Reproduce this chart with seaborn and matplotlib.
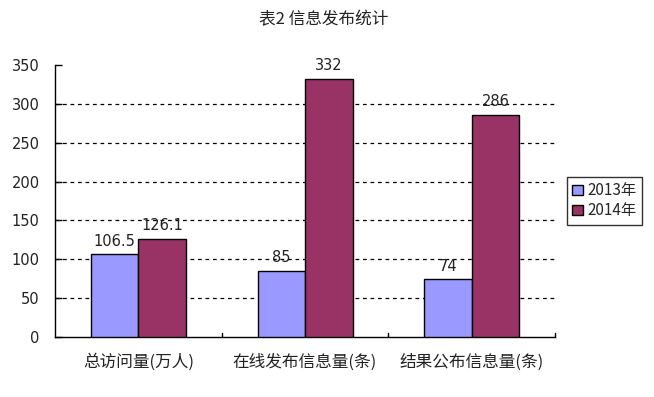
import matplotlib
matplotlib.use("Agg")
import matplotlib.pyplot as plt
import seaborn as sns
import pandas as pd
from matplotlib.patches import Patch

title = "表2 信息发布统计"
categories = ["总访问量(万人)", "在线发布信息量(条)", "结果公布信息量(条)"]
series_names = ["2013年", "2014年"]
values_2013 = [106.5, 85, 74]
values_2014 = [126.1, 332, 286]
label_2013 = ["106.5", "85", "74"]
label_2014 = ["126.1", "332", "286"]
yticks = [0, 50, 100, 150, 200, 250, 300, 350]
colors = ["#9999FF", "#993366"]

df = pd.DataFrame({
    "cat": categories * 2,
    "year": [series_names[0]] * 3 + [series_names[1]] * 3,
    "val": values_2013 + values_2014,
})

sns.set_theme(style="white")
plt.rcParams["font.family"] = ["Noto Sans CJK SC", "DejaVu Sans"]

fig = plt.figure(figsize=(6.54, 3.97), dpi=100)
ax = fig.add_axes([55 / 654, 1 - 337 / 397, 500 / 654, 272 / 397])

sns.barplot(data=df, x="cat", y="val", hue="year", palette=colors,
            width=0.57, edgecolor="black", linewidth=1, ax=ax, legend=False,
            saturation=1, zorder=3)

ax.set_ylim(0, 350)
ax.set_xlim(-0.5, 2.5)
ax.set_yticks(yticks)
ax.set_yticklabels([str(v) for v in yticks], fontsize=10.5, family=["DejaVu Sans"],
                   color="#222222")
ax.set_xticks([0, 1, 2])
ax.set_xticklabels(categories, fontsize=12, color="#222222")
ax.tick_params(axis="x", length=0, pad=12)
ax.tick_params(axis="y", direction="in", length=5, width=1, color="black", left=True, pad=11)
for b in [0.5, 1.5, 2.5]:
    ax.plot([b, b], [0, 5], color="black", lw=1, clip_on=False, zorder=4)
for v in yticks[1:-1]:
    ax.axhline(v, color="black", lw=0.9, ls=(0, (3, 3)), zorder=1)
ax.set_xlabel("")
ax.set_ylabel("")
for s in ["top", "right"]:
    ax.spines[s].set_visible(False)
for s in ["left", "bottom"]:
    ax.spines[s].set_color("black")
    ax.spines[s].set_linewidth(1)

labels_all = [label_2013, label_2014]
for container, labs in zip(ax.containers, labels_all):
    ax.bar_label(container, labels=labs, padding=4, fontsize=10.5, color="#222222",
                 zorder=5, family=["DejaVu Sans"])

fig.text(324 / 654, 1 - 20 / 397, title, ha="center", va="center", fontsize=12,
         color="#222222")

handles = [Patch(facecolor=c, edgecolor="black", lw=1) for c in colors]
leg = fig.legend(handles, series_names, loc="upper left",
                 bbox_to_anchor=(567 / 654, 1 - 177 / 397), frameon=True,
                 fontsize=11, handlelength=0.7, handleheight=0.7,
                 handletextpad=0.3, borderpad=0.35, labelspacing=0.2,
                 fancybox=False, borderaxespad=0)
leg.get_frame().set_edgecolor("black")
leg.get_frame().set_linewidth(1)

fig.savefig("out.png", dpi=100)
